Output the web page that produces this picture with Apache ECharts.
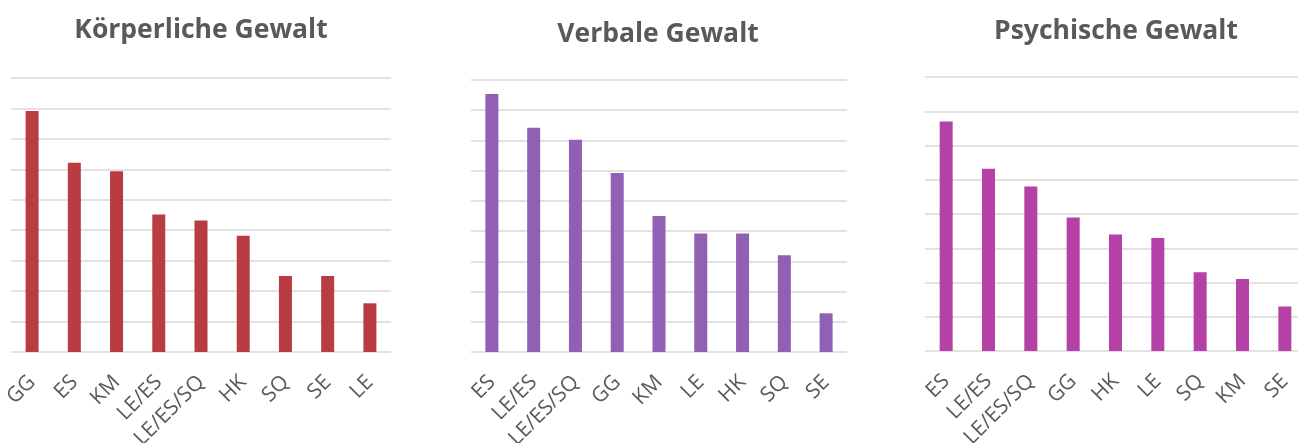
<!DOCTYPE html>
<html>
<head>
<meta charset="utf-8">
<script src="https://cdn.jsdelivr.net/npm/echarts@6/dist/echarts.min.js"></script>
<style>
  html, body { margin: 0; padding: 0; background: #fff; }
  #main { width: 1298px; height: 443px; }
</style>
</head>
<body>
<div id="main"></div>
<script>
// Körperliche Gewalt
var cats1 = ['GG', 'ES', 'KM', 'LE/ES', 'LE/ES/SQ', 'HK', 'SQ', 'SE', 'LE'];
var vals1 = [39.6, 31.1, 29.7, 22.6, 21.6, 19.1, 12.5, 12.5, 8.0];
// Verbale Gewalt
var cats2 = ['ES', 'LE/ES', 'LE/ES/SQ', 'GG', 'KM', 'LE', 'HK', 'SQ', 'SE'];
var vals2 = [42.7, 37.1, 35.1, 29.6, 22.5, 19.6, 19.6, 16.0, 6.4];
// Psychische Gewalt
var cats3 = ['ES', 'LE/ES', 'LE/ES/SQ', 'GG', 'HK', 'LE', 'SQ', 'KM', 'SE'];
var vals3 = [33.5, 26.6, 24.0, 19.5, 17.0, 16.5, 11.5, 10.5, 6.5];

var titles = ['Körperliche Gewalt', 'Verbale Gewalt', 'Psychische Gewalt'];
var colors = ['#b83c41', '#9060b4', '#b540a6'];
var maxes = [45, 45, 40];

var FONT = '"Open Sans", sans-serif';
var TEXT = '#595959';
var GRIDLINE = '#d9d9d9';

// labels may run past the bottom edge, as in the original
var grids = [
  { left: 11, top: 78, width: 380, bottom: 91, outerBoundsMode: 'none' },
  { left: 471, top: 80, width: 376, bottom: 91, outerBoundsMode: 'none' },
  { left: 925, top: 77, width: 381, bottom: 92, outerBoundsMode: 'none' }
];
var titlePos = [
  { left: 196, top: 25 },
  { left: 653, top: 29 },
  { left: 1111, top: 26 }
];

function xAxisFor(i, cats) {
  return {
    type: 'category',
    gridIndex: i,
    data: cats,
    axisLine: { show: false },
    axisTick: { show: false },
    axisLabel: {
      interval: 0,
      rotate: 45,
      margin: 27,
      color: TEXT,
      fontSize: 21,
      fontFamily: FONT
    }
  };
}

function yAxisFor(i) {
  return {
    type: 'value',
    gridIndex: i,
    min: 0,
    max: maxes[i],
    interval: 5,
    axisLabel: { show: false },
    axisLine: { show: false },
    axisTick: { show: false },
    splitLine: { lineStyle: { color: GRIDLINE, width: 1.5 } }
  };
}

function seriesFor(i, vals) {
  return {
    type: 'bar',
    xAxisIndex: i,
    yAxisIndex: i,
    barWidth: 13,
    itemStyle: { color: colors[i] },
    data: vals
  };
}

var option = {
  animation: false,
  backgroundColor: '#fff',
  title: titles.map(function (t, i) {
    return {
      text: t,
      left: titlePos[i].left,
      top: titlePos[i].top,
      textAlign: 'center',
      textVerticalAlign: 'middle',
      textStyle: {
        color: TEXT,
        fontSize: 26.5,
        fontWeight: 'bold',
        fontFamily: FONT
      }
    };
  }),
  grid: grids,
  xAxis: [xAxisFor(0, cats1), xAxisFor(1, cats2), xAxisFor(2, cats3)],
  yAxis: [yAxisFor(0), yAxisFor(1), yAxisFor(2)],
  series: [seriesFor(0, vals1), seriesFor(1, vals2), seriesFor(2, vals3)]
};

var chart = echarts.init(document.getElementById('main'));
chart.setOption(option);
</script>
</body>
</html>
